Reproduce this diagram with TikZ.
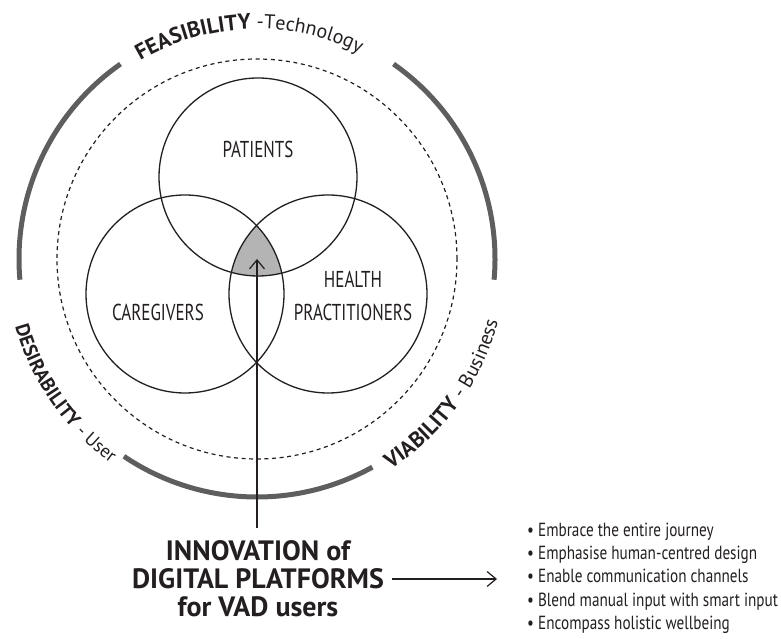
\documentclass[tikz,border=0pt]{standalone}
\usepackage{fontspec}
\setmainfont{PT Sans}
\newfontfamily\condfont[FakeStretch=0.74]{PT Sans}
\newfontfamily\listfont[FakeStretch=0.80]{PT Sans}
\newfontfamily\headfont{PT Sans}
\usetikzlibrary{arrows.meta,decorations.text}
\definecolor{ink}{HTML}{231F20}
\definecolor{arcgray}{HTML}{5E5E5E}
\definecolor{shadegray}{HTML}{B4B4B4}
\begin{document}
\begin{tikzpicture}[x=1pt,y=1pt,
  ring/.style={circle, draw=ink, line width=1.3pt, minimum size=198pt, inner sep=0pt},
  setlabel/.style={font=\condfont\fontsize{23}{33}\selectfont, text=ink, align=center, inner sep=0pt},
  band/.style={draw=arcgray, line width=5pt},
  dashring/.style={draw=ink, line width=1.2pt, dash pattern=on 4pt off 3.6pt},
  pointer/.style={draw=ink, line width=1.2pt, -{Straight Barb[length=9pt,width=15pt,line width=1.2pt]}},
  bigtitle/.style={font=\headfont\bfseries\fontsize{28}{28}\selectfont, text=ink, align=center, inner sep=0pt},
  listline/.style={font=\listfont\fontsize{19}{23}\selectfont, text=ink, anchor=base west, inner sep=0pt}
]
\useasboundingbox (0,0) rectangle (781,639);
\coordinate (O) at (257,380);

% shaded common region
\begin{scope}
  \clip (258,462) circle (99);
  \clip (185,345) circle (99);
  \fill[shadegray] (328,345) circle (99);
\end{scope}

% three circles
\node[ring] (pat) at (258,462) {};
\node[ring] (care) at (185,345) {};
\node[ring] (hp) at (328,345) {};

\node[setlabel] (patl) at (258,490) {PATIENTS};
\node[setlabel] (carel) at (158,327) {CAREGIVERS};
\node[setlabel] (hpl) at (353,343.5) {HEALTH\\PRACTITIONERS};

% dashed ring
\draw[dashring] (O) circle (200);

% thick outer arcs
\draw[band] ([shift={(125:238)}]O) arc[start angle=125, end angle=185, radius=238];
\draw[band] ([shift={(-5:238)}]O) arc[start angle=-5, end angle=55, radius=238];
\draw[band] ([shift={(236:238)}]O) arc[start angle=236, end angle=299, radius=238];

% curved texts
\path[decorate, decoration={text along path, text align=center,
  text={|\headfont\bfseries\fontsize{22}{22}\selectfont\color{ink}|FEASIBILITY |\headfont\mdseries\fontsize{20}{20}\selectfont\color{ink}|-Technology}}]
  ([shift={(152:230)}]O) arc[start angle=152, end angle=32, radius=230];
\path[decorate, decoration={text along path, text align=center,
  text={|\headfont\bfseries\fontsize{19.5}{20}\selectfont\color{ink}|DESIRABILITY |\headfont\mdseries\fontsize{18.5}{19}\selectfont\color{ink}|- User}}]
  ([shift={(185:251)}]O) arc[start angle=185, end angle=245, radius=251];
\path[decorate, decoration={text along path, text align=center,
  text={|\headfont\bfseries\fontsize{22}{22}\selectfont\color{ink}|VIABILITY |\headfont\mdseries\fontsize{20}{20}\selectfont\color{ink}|- Business}}]
  ([shift={(-66:249)}]O) arc[start angle=-66, end angle=-6, radius=249];

% vertical arrow into the centre
\coordinate (arrowfoot) at (257,111);
\draw[pointer] (arrowfoot) -- (O);

% title
\node[bigtitle] (title) at (258,60) {INNOVATION of\\DIGITAL PLATFORMS\\for VAD users};

% horizontal arrow
\coordinate (harrowstart) at (392,60);
\coordinate (harrowend) at (497,60);
\draw[pointer] (harrowstart) -- (harrowend);

% list
\node[listline] (l1) at (527,102.7) {\textbullet\ Embrace the entire journey};
\node[listline] (l2) at (527,79.4) {\textbullet\ Emphasise human-centred design};
\node[listline] (l3) at (527,56.1) {\textbullet\ Enable communication channels};
\node[listline] (l4) at (527,32.7) {\textbullet\ Blend manual input with smart input};
\node[listline] (l5) at (527,9.4) {\textbullet\ Encompass holistic wellbeing};
\end{tikzpicture}
\end{document}
